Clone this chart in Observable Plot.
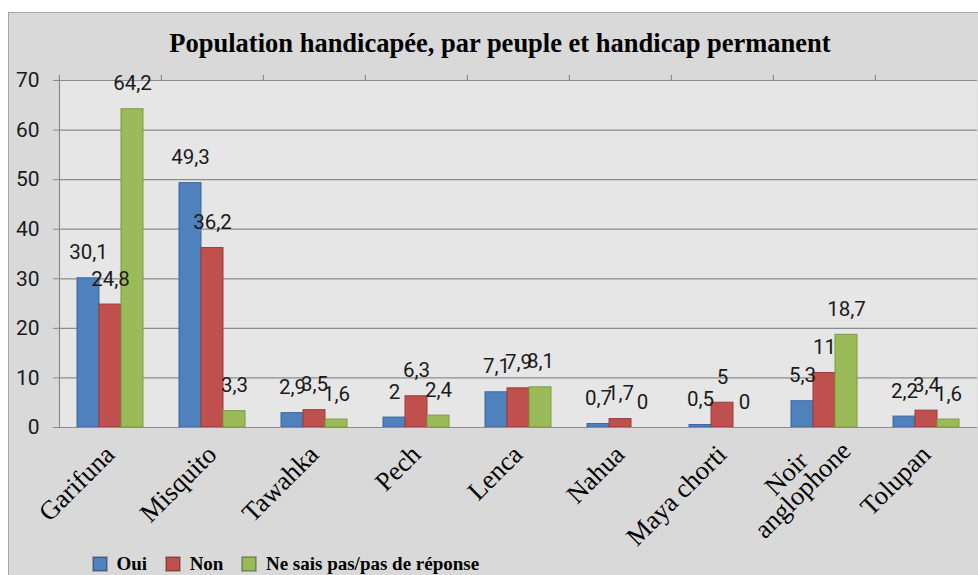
<!DOCTYPE html>
<html><head><meta charset="utf-8">
<script src="https://cdn.jsdelivr.net/npm/d3@7"></script>
<script src="https://cdn.jsdelivr.net/npm/@observablehq/plot@0.6"></script>
<style>
body{margin:0;background:#fff;}
#chart{position:relative;width:978px;height:575px;overflow:hidden;}
#box{position:absolute;left:8px;top:12px;width:980px;height:570px;background:#d9d9d9;border:1.5px solid #a6a6a6;box-sizing:border-box;}
#title{position:absolute;left:0;width:1000px;top:28px;text-align:center;font:bold 26.5px "Liberation Serif","Times New Roman",serif;color:#000;}
#plot{position:absolute;left:0;top:0;}
#legend{position:absolute;left:93px;top:547px;}
#legend svg rect{stroke:#000;stroke-opacity:0.35;stroke-width:1.5px;}
</style></head>
<body>
<div id="chart"><div id="box"></div><div id="title">Population handicapée, par peuple et handicap permanent</div><div id="plot"></div><div id="legend"></div></div>
<script>
const categories = ["Garifuna","Misquito","Tawahka","Pech","Lenca","Nahua","Maya chorti","Noir\nanglophone","Tolupan"];
const series = ["Oui","Non","Ne sais pas/pas de réponse"];
const oui = [30.1,49.3,2.9,2,7.1,0.7,0.5,5.3,2.2];
const non = [24.8,36.2,3.5,6.3,7.9,1.7,5,11,3.4];
const nsp = [64.2,3.3,1.6,2.4,8.1,0,0,18.7,1.6];
const yTicks = [0,10,20,30,40,50,60,70];
const fills = ["#4f81bd","#c0504d","#9bbb59"];
const strokes = ["#3c67a0","#9a3d3a","#7b9a41"];

const rows = [];
[oui, non, nsp].forEach((vals, si) => vals.forEach((v, ci) => rows.push({category: categories[ci], series: series[si], value: v})));

const W = 978, H = 575, mL = 58, mR = 0, mT = 80, mB = 148;
const step = (W - mL - mR) / categories.length;
const numFont = "Roboto, 'Open Sans', sans-serif";
const serif = "'Liberation Serif', 'Times New Roman', serif";
const fmt = v => String(v).replace(".", ",");
const labelStyle = {rotate: -45, textAnchor: "end", lineAnchor: "top", fontSize: 26.5, fontFamily: serif, fill: "#000", lineHeight: 0.87, frameAnchor: "bottom"};

const chart = Plot.plot({
  width: W, height: H,
  marginLeft: mL, marginRight: mR, marginTop: mT, marginBottom: mB,
  style: {background: "transparent", overflow: "visible"},
  fx: {domain: categories, padding: 0, axis: null, label: null},
  x: {domain: series, paddingInner: 0, paddingOuter: 0.79, axis: null},
  y: {domain: [0, 70], axis: null, label: null},
  color: {domain: series, range: fills},
  marks: [
    Plot.frame({fill: "#e6e6e6", stroke: "none", facet: "super"}),
    Plot.gridY(yTicks, {stroke: "#8c8c8c", strokeOpacity: 1, strokeWidth: 1.2}),
    Plot.axisY(yTicks, {label: null, tickSize: 6, tickPadding: 14, stroke: "#8c8c8c", fontSize: 21, fontFamily: numFont, fill: "#1a1a1a"}),
    Plot.frame({anchor: "left", stroke: "#8c8c8c", strokeWidth: 1.2, facet: "super"}),
    Plot.barY(rows.filter(d => d.value > 0), {fx: "category", x: "series", y: "value", fill: "series",
      stroke: d => strokes[series.indexOf(d.series)], strokeWidth: 1}),
    Plot.ruleY([0], {stroke: "#8c8c8c", strokeWidth: 1.2}),
    Plot.axisFx({label: null, tickSize: 6, tickFormat: () => "", dx: -step / 2, stroke: "#8c8c8c", strokeWidth: 1.2}),
    Plot.text(rows, {fx: "category", x: "series", y: "value", text: d => fmt(d.value), lineAnchor: "bottom", dy: -19,
      fontSize: 20.5, fontFamily: numFont, fill: "#1a1a1a"}),
    Plot.text(categories.filter(c => !c.includes("\n")), {fx: d => d, text: d => d, dx: -6, dy: 17, ...labelStyle}),
    Plot.text(categories.filter(c => c.includes("\n")), {fx: d => d, text: d => d, dx: 0, dy: -3, ...labelStyle})
  ]
});
document.getElementById("plot").appendChild(chart);

// center the lines of multi-line category labels on each other, as in the reference
chart.querySelectorAll("text").forEach(t => {
  const spans = t.querySelectorAll("tspan");
  if (spans.length < 2) return;
  const ws = Array.from(spans, s => s.getComputedTextLength());
  const max = Math.max(...ws);
  spans.forEach((s, i) => s.setAttribute("x", -(max - ws[i]) / 2));
});

const lg = Plot.legend({color: {domain: series, range: fills}, legend: "swatches", swatchSize: 14,
  style: {fontFamily: serif, fontSize: "19px", fontWeight: "bold", color: "#000", background: "transparent"}});
document.getElementById("legend").appendChild(lg);
</script>
</body></html>
